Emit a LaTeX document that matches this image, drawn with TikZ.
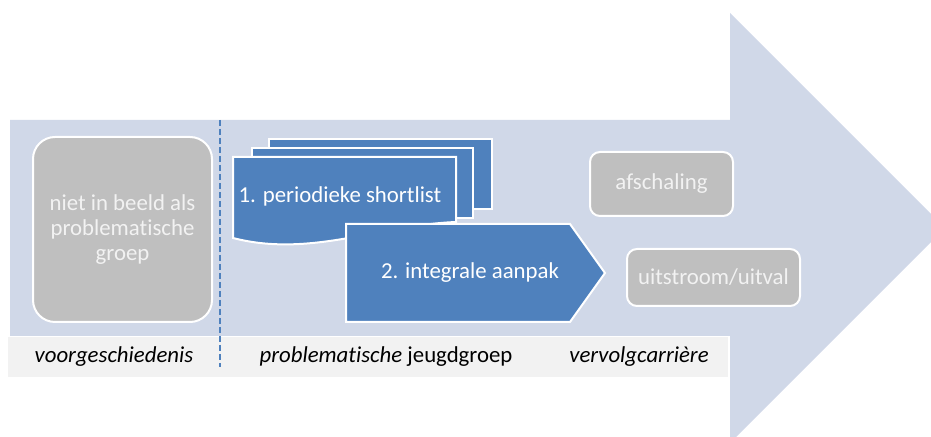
\documentclass[tikz,border=0pt]{standalone}
\usepackage{fontspec}
\setmainfont{Carlito}[RawFeature={-liga;-clig;-calt;-dlig}]
\usepackage{tikz}
\definecolor{arrowfill}{HTML}{D0D8E8}
\definecolor{bandfill}{HTML}{F2F2F2}
\definecolor{stepblue}{HTML}{4F81BD}
\definecolor{boxgray}{HTML}{BFBFBF}
\newcommand{\txt}{\fontsize{11.4}{12.6}\selectfont}

\begin{document}
\begin{tikzpicture}[x=0.5pt,y=-0.5pt]
                        \tikzstyle{graybox}=[fill=boxgray,draw=white,line width=1pt,rounded corners=5pt,text=bandfill,font=\txt,align=center]
                        \tikzstyle{sheet}=[fill=stepblue,draw=white,line width=1pt]
                        \tikzstyle{phase}=[font=\txt,text=black]
                        \useasboundingbox (0,0) rectangle (931,437);
                        \clip (0,0) rectangle (931,437);
                        % big arrow
                        \fill[arrowfill] (10,120) -- (730,120) -- (730,13) -- (945,228)
                            -- (730,443) -- (730,336) -- (10,336) -- cycle;
                        \fill[bandfill] (8,337) rectangle (728,377);
                        \draw[stepblue,line width=0.8pt,dash pattern=on 3pt off 1.5pt] (220,120) -- (220,367);
                        % phases
                        \node[phase] (pre) at (114,357) {\itshape voorgeschiedenis};
                        \node[phase] (grp) at (386,357) {\itshape problematische\/\upshape{} jeugdgroep};
                        \node[phase] (post) at (639,357) {\itshape vervolgcarri\`ere};
                        % left box
                        \node[graybox,rounded corners=11pt,minimum width=89.5pt,minimum height=92.5pt] (hist) at (122.5,229.5)
                            {niet in beeld als\\problematische\\groep};
                        % step 1: stacked sheets
                        \draw[sheet] (269,139) rectangle (492,209);
                        \draw[sheet] (252,148) rectangle (473,218);
                        \draw[sheet] (233,157) -- (456,157) -- (456,222)
                            .. controls (380,225) and (310,258) .. (233,238) -- cycle;
                        \node[font=\txt,text=white] (list) at (340,196) {1. periodieke shortlist};
                        % step 2
                        \draw[sheet] (346,224) -- (570,224) -- (605,273) -- (570,322) -- (346,322) -- cycle;
                        \node[font=\txt,text=white] (aanpak) at (470,273) {2. integrale aanpak};
                        % outcomes
                        \node[graybox,minimum width=71.5pt,minimum height=32pt] (afs) at (661.5,184) {afschaling};
                        \node[graybox,minimum width=86.5pt,minimum height=28.5pt] (uit) at (713.5,277.5) {uitstroom/uitval};
                    \end{tikzpicture}
\end{document}
